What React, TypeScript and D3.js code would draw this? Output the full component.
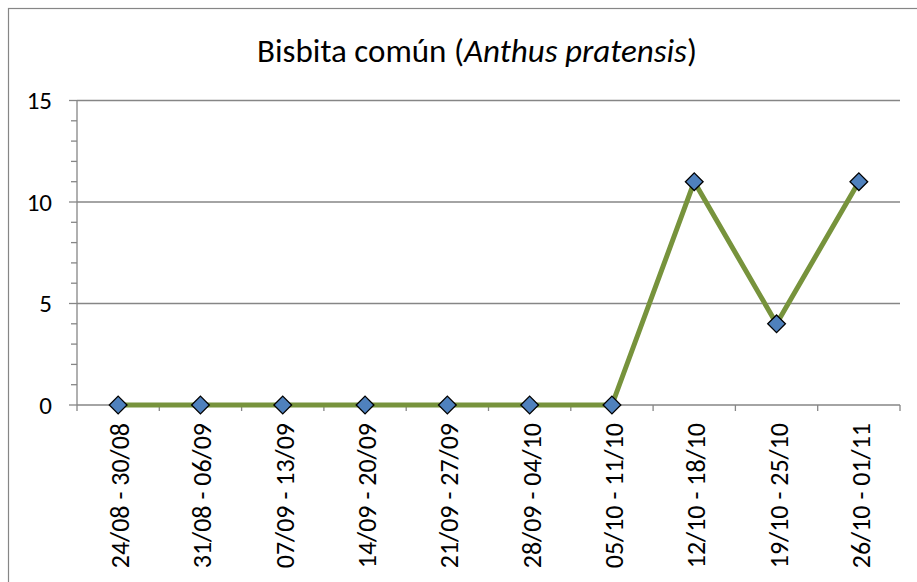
import React from "react";
import * as d3 from "d3";

const categories = [
  "24/08 - 30/08",
  "31/08 - 06/09",
  "07/09 - 13/09",
  "14/09 - 20/09",
  "21/09 - 27/09",
  "28/09 - 04/10",
  "05/10 - 11/10",
  "12/10 - 18/10",
  "19/10 - 25/10",
  "26/10 - 01/11",
];
const values = [0, 0, 0, 0, 0, 0, 0, 11, 4, 11];
const yTicks = [0, 5, 10, 15];
const yMinorTicks = d3.range(0, 16, 1);

const W = 917;
const H = 582;
const left = 77;
const right = 900;
const top = 100.5;
const bottom = 405;
const font = "Carlito, Lato, 'Liberation Sans', sans-serif";

export default function App() {
  const x = d3.scaleBand<string>().domain(categories).range([left, right]).padding(0);
  const y = d3.scaleLinear().domain([0, 15]).range([bottom, top]);
  const cx = (c: string) => (x(c) as number) + x.bandwidth() / 2;
  const line = d3
    .line<number>()
    .x((_, i) => cx(categories[i]))
    .y((d) => y(d));
  const grid = "#868686";
  const diamond = d3.symbol().type(d3.symbolDiamond2).size(200)();

  return (
    <svg
      width={W}
      height={H}
      style={{ position: "absolute", left: 0, top: 0, display: "block" }}
      fontFamily={font}
    >
      <rect x={0} y={0} width={W} height={H} fill="#fff" />
      <rect x={8.5} y={8.5} width={W + 10} height={H + 10} fill="none" stroke="#868686" strokeWidth={1.2} />
      <text x={477} y={62} textAnchor="middle" fontSize={33} fill="#000">
        Bisbita común (<tspan fontStyle="italic">Anthus pratensis</tspan>)
      </text>
      {yTicks.map((t) => (
        <line key={"g" + t} x1={left} x2={right} y1={y(t)} y2={y(t)} stroke={grid} strokeWidth={1.3} />
      ))}
      {yMinorTicks.map((t) => (
        <line
          key={"m" + t}
          x1={t % 5 === 0 ? 69 : 71}
          x2={left}
          y1={y(t)}
          y2={y(t)}
          stroke={grid}
          strokeWidth={1.3}
        />
      ))}
      <line x1={left} x2={left} y1={top} y2={bottom} stroke={grid} strokeWidth={1.3} />
      {d3.range(categories.length + 1).map((i) => {
        const xx = left + i * x.bandwidth();
        return <line key={"xt" + i} x1={xx} x2={xx} y1={bottom} y2={bottom + 6} stroke={grid} strokeWidth={1.3} />;
      })}
      {yTicks.map((t) => (
        <text key={"yl" + t} x={52} y={y(t) + 8.5} textAnchor="end" fontSize={25} fill="#000">
          {t}
        </text>
      ))}
      {categories.map((c) => (
        <text
          key={"xl" + c}
          transform={`translate(${cx(c) + 11},${423}) rotate(-90)`}
          textAnchor="end"
          fontSize={26}
          fill="#000"
        >
          {c}
        </text>
      ))}
      <path d={line(values) as string} fill="none" stroke="#77933C" strokeWidth={5} strokeLinejoin="round" />
      {values.map((v, i) => (
        <path
          key={"p" + i}
          d={diamond as string}
          transform={`translate(${cx(categories[i])},${y(v)})`}
          fill="#4F81BD"
          stroke="#000"
          strokeWidth={1.3}
        />
      ))}
    </svg>
  );
}
